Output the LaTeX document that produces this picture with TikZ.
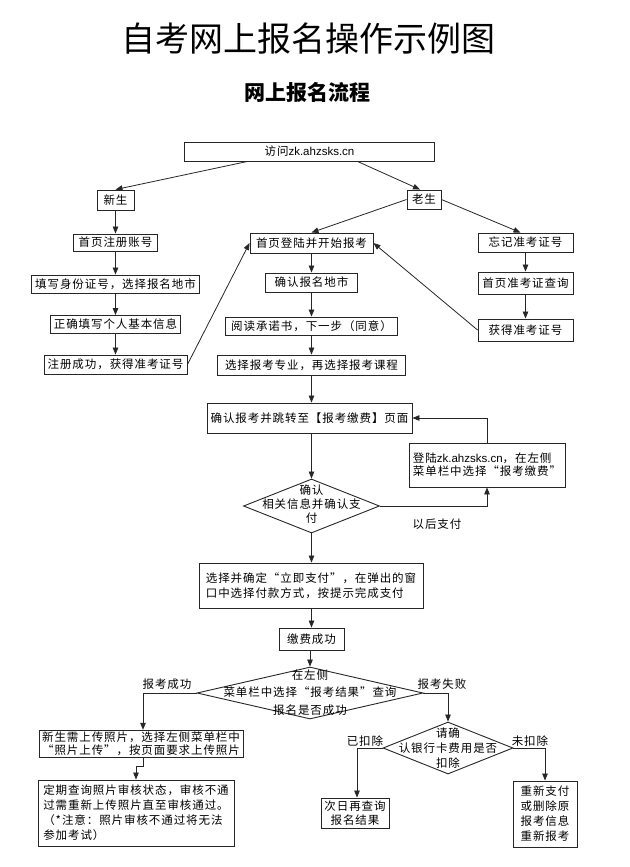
\documentclass[tikz,border=0pt]{standalone}
\usepackage{fontspec}
\setmainfont{Noto Sans CJK SC}
\newfontfamily\cjkbody[LetterSpace=8]{Noto Sans CJK SC}
\newfontfamily\lat{Liberation Sans}
\usetikzlibrary{arrows.meta,calc,shapes.geometric}
\begin{document}
\begin{tikzpicture}[x=1pt,y=-1pt,
  box/.style={draw=black!85, line width=0.9pt, inner xsep=3pt, inner ysep=2pt,
              minimum height=19pt, font={\cjkbody\fontsize{11.5}{13}\selectfont}},
  dia/.style={draw=black!85, line width=0.9pt, shape=diamond, inner sep=0pt},
  txt/.style={align=center, inner sep=0pt},
  lbl/.style={inner sep=1pt, font={\cjkbody\fontsize{11.5}{13}\selectfont}},
  arr/.style={-{Triangle[length=7pt,width=5.5pt]}, line width=0.8pt, draw=black!85},
  ln/.style={line width=0.8pt, draw=black!85}]
\useasboundingbox (0,0) rectangle (629,867);

% titles
\node (title) at (308,39) {\fontsize{34}{34}\selectfont 自考网上报名操作示例图};
\node (sub) at (307,92) {\fontsize{21}{21}\selectfont\bfseries 网上报名流程};

% top
\node[box,minimum width=250pt] (visit) at (309.5,151.5) {访问{\lat zk.ahzsks.cn}};
\node[box,minimum width=37pt,minimum height=20pt] (new) at (115.5,200) {新生};
\node[box,minimum width=34pt] (old) at (424,199.5) {老生};

% left column
\node[box,minimum width=84pt,minimum height=17pt] (reg) at (115.5,242.5) {首页注册账号};
\node[box,minimum width=168pt,minimum height=18pt] (fill) at (115.5,284) {填写身份证号，选择报名地市};
\node[box,minimum width=127pt,minimum height=18pt] (info) at (115.5,324.5) {正确填写个人基本信息};
\node[box,minimum width=143pt] (done) at (115.5,364.5) {注册成功，获得准考证号};

% middle column
\node[box,minimum width=123pt,minimum height=20pt] (login) at (311.5,243) {首页登陆并开始报考};
\node[box,minimum width=92pt] (city) at (311.5,282.5) {确认报名地市};
\node[box,minimum width=172pt,minimum height=18pt] (read) at (311.5,326) {阅读承诺书，下一步（同意）};
\node[box,minimum width=188pt,minimum height=20pt] (select) at (311.5,365) {选择报考专业，再选择报考课程};

% right column
\node[box,minimum width=95pt] (forget) at (525.5,242.5) {忘记准考证号};
\node[box,minimum width=95pt,minimum height=22pt] (query) at (525.5,283) {首页准考证查询};
\node[box,minimum width=95pt,minimum height=22pt] (get) at (525.5,330) {获得准考证号};

% payment
\node[box,minimum width=205pt,minimum height=30pt] (cpay) at (309.5,418) {确认报考并跳转至【报考缴费】页面};
\node[box,minimum width=156pt,minimum height=44pt,align=left,
      font={\cjkbody\fontsize{11.5}{13}\selectfont}] (relogin) at (487,465)
      {登陆{\lat zk.ahzsks.cn}，在左侧\\菜单栏中选择“报考缴费”};
\node[dia,minimum width=136pt,minimum height=54pt] (d1) at (311.5,506) {};
\node[txt,font={\cjkbody\fontsize{11.5}{14}\selectfont}] (d1t) at (311.5,504) {确认\\相关信息并确认支\\付};
\node[lbl] (later) at (437,524) {以后支付};

\node[box,minimum width=224pt,minimum height=45pt,align=left,
      font={\cjkbody\fontsize{11.5}{15}\selectfont}] (paybox) at (311,585.5)
      {选择并确定“立即支付”，在弹出的窗\\口中选择付款方式，按提示完成支付};
\node[box,minimum width=65pt,minimum height=22pt] (success) at (311.5,639) {缴费成功};

\node[dia,minimum width=226pt,minimum height=52pt] (d2) at (310,693) {};
\node[txt,font={\cjkbody\fontsize{11.5}{17.5}\selectfont}] (d2t) at (310,692.5) {在左侧\\菜单栏中选择“报考结果”查询\\报名是否成功};
\node[lbl] (ok) at (167,684) {报考成功};
\node[lbl] (fail) at (442,684) {报考失败};

% bottom left
\node[box,minimum width=204pt,minimum height=25pt,align=center,
      font={\cjkbody\fontsize{11.5}{12.5}\selectfont}] (upload) at (141,744)
      {新生需上传照片，选择左侧菜单栏中\\“照片上传”，按页面要求上传照片};
\node[box,minimum width=196pt,minimum height=66pt,align=left,
      font={\cjkbody\fontsize{11.5}{15}\selectfont}] (periodic) at (136,813)
      {定期查询照片审核状态，审核不通\\过需重新上传照片直至审核通过。\\（*注意：照片审核不通过将无法\\参加考试）};

% bottom right
\node[dia,minimum width=130pt,minimum height=52pt] (d3) at (448,748) {};
\node[txt,font={\cjkbody\fontsize{11.5}{15}\selectfont}] (d3t) at (448,748) {请确\\认银行卡费用是否\\扣除};
\node[lbl] (paid) at (365,741) {已扣除};
\node[lbl] (unpaid) at (530,741) {未扣除};
\node[box,minimum width=68pt,minimum height=30pt,align=center,
      font={\cjkbody\fontsize{11.5}{14}\selectfont}] (nextday) at (355,813) {次日再查询\\报名结果};
\node[box,minimum width=64pt,minimum height=66pt,align=center,
      font={\cjkbody\fontsize{11.5}{15}\selectfont}] (redo) at (545,814) {重新支付\\或删除原\\报考信息\\重新报考};

% connectors
\draw[arr] ([xshift=-62pt]visit.south) -- (new.north);
\draw[arr] ([xshift=48pt]visit.south) -- ([xshift=-4pt]old.north);
\draw[arr] (old.west) -- (login.north);
\draw[arr] (old.east) -- ([xshift=-5pt]forget.north);

\draw[arr] (new.south) -- (reg.north);
\draw[arr] (reg.south) -- (fill.north);
\draw[arr] (fill.south) -- (info.north);
\draw[arr] (info.south) -- (done.north);
\draw[arr] (done.east) -- (login.west);

\draw[arr] (forget.south) -- (query.north);
\draw[arr] (query.south) -- (get.north);
\draw[arr] (get.west) -- (login.east);

\draw[arr] (login.south) -- (city.north);
\draw[arr] (city.south) -- (read.north);
\draw[arr] (read.south) -- (select.north);
\draw[arr] (select.south) -- (select.south |- cpay.north);
\draw[arr] (cpay.south -| d1.north) -- (d1.north);
\draw[arr] (d1.east) -| (relogin.south);
\draw[arr] (relogin.north) |- (cpay.east);
\draw[arr] (d1.south) -- (d1.south |- paybox.north);
\draw[arr] (paybox.south -| success.north) -- (success.north);
\draw[arr] (success.south -| d2.north) -- (d2.north);

\draw[arr] (d2.west) -| ([xshift=2pt]upload.north);
\draw[arr] ([xshift=2pt]upload.south) |- ($(periodic.north)+(0,-13)$) -- (periodic.north);
\draw[arr] (d2.east) -| (d3.north);
\draw[arr] (d3.west) -| ([xshift=2pt]nextday.north);
\draw[arr] (d3.east) -| (redo.north);
\end{tikzpicture}
\end{document}
